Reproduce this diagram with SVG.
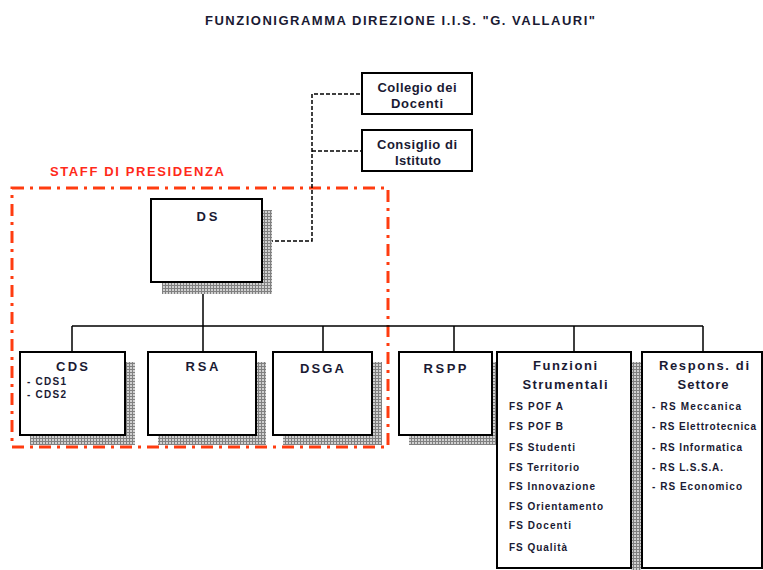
<svg xmlns="http://www.w3.org/2000/svg" width="763" height="570" viewBox="0 0 763 570">
<defs>
<pattern id="hatch" width="3" height="3" patternUnits="userSpaceOnUse">
<rect width="3" height="3" fill="#d0d0d0"/>
<path d="M0 0.5H3M0.5 0V3" stroke="#808080" stroke-width="1"/>
</pattern>
<style>
.box{fill:#fff;stroke:#000;stroke-width:2}
.sh{fill:url(#hatch)}
.t{font-family:"Liberation Sans",Arial,sans-serif;font-weight:bold;fill:#1a1a33}
.h{font-size:13px;text-anchor:middle}
.s{font-size:10px}
.c{fill:none;stroke:#000;stroke-width:1.5}
.d{fill:none;stroke:#000;stroke-width:1.5;stroke-dasharray:4 2}
</style>
</defs>
<rect width="763" height="570" fill="#fff"/>
<text class="t" x="400" y="25" font-size="13" text-anchor="middle" textLength="390" lengthAdjust="spacing">FUNZIONIGRAMMA DIREZIONE I.I.S. "G. VALLAURI"</text>
<text class="t" x="137" y="176" font-size="13" text-anchor="middle" style="fill:#ff2a1a" textLength="174" lengthAdjust="spacing">STAFF DI PRESIDENZA</text>
<rect x="12" y="188" width="376" height="259" fill="none" stroke="#ff3c10" stroke-width="3" stroke-dasharray="12 6 3 6"/>
<g id="connectors">
<path class="c" d="M203 282V326M72 326H703M72 326V352M203 326V352M323 326V352M454 326V352M574 326V352M703 326V352"/>
<path class="d" d="M263 241H312V94H362M312 151H362"/>
</g>
<g id="collegio">
<rect class="box" x="362" y="73" width="110" height="41"/>
<text class="t h" x="417" y="92" font-size="12" textLength="79" lengthAdjust="spacing">Collegio dei</text>
<text class="t h" x="417" y="108" font-size="12" textLength="52" lengthAdjust="spacing">Docenti</text>
</g>
<g id="consiglio">
<rect class="box" x="362" y="130" width="110" height="41"/>
<text class="t h" x="417" y="149" font-size="12" textLength="80" lengthAdjust="spacing">Consiglio di</text>
<text class="t h" x="418" y="165" font-size="12" textLength="46" lengthAdjust="spacing">Istituto</text>
</g>
<g id="ds">
<path class="sh" d="M262 210H272V294H162V282H262Z"/>
<rect class="box" x="151" y="199" width="111" height="83"/>
<text class="t h" x="207" y="221" textLength="21" lengthAdjust="spacing">DS</text>
</g>
<g id="cds">
<path class="sh" d="M125 362H135V445H30V435H125Z"/>
<rect class="box" x="20" y="352" width="105" height="83"/>
<text class="t h" x="72" y="371" textLength="32" lengthAdjust="spacing">CDS</text>
<text class="t s" x="27" y="385" font-size="9.5" textLength="39" lengthAdjust="spacing">- CDS1</text>
<text class="t s" x="27" y="398" font-size="9.5" textLength="39" lengthAdjust="spacing">- CDS2</text>
</g>
<g id="rsa">
<path class="sh" d="M256 362H266V445H158V435H256Z"/>
<rect class="box" x="148" y="352" width="108" height="83"/>
<text class="t h" x="202" y="371" textLength="33" lengthAdjust="spacing">RSA</text>
</g>
<g id="dsga">
<path class="sh" d="M372 362H382V445H283V435H372Z"/>
<rect class="box" x="273" y="352" width="99" height="83"/>
<text class="t h" x="322" y="373" textLength="44" lengthAdjust="spacing">DSGA</text>
</g>
<g id="rspp">
<path class="sh" d="M492 362H502V445H409V435H492Z"/>
<rect class="box" x="399" y="352" width="93" height="83"/>
<text class="t h" x="445" y="373" textLength="43" lengthAdjust="spacing">RSPP</text>
</g>
<g id="funzioni">
<path class="sh" d="M631 362H641V570H631Z"/>
<rect class="box" x="497" y="352" width="134" height="216"/>
<text class="t h" x="565" y="370" textLength="64" lengthAdjust="spacing">Funzioni</text>
<text class="t h" x="565" y="389" textLength="85" lengthAdjust="spacing">Strumentali</text>
<text class="t s" x="509" y="410" textLength="54" lengthAdjust="spacing">FS POF A</text>
<text class="t s" x="509" y="430" textLength="54" lengthAdjust="spacing">FS POF B</text>
<text class="t s" x="509" y="451" textLength="66" lengthAdjust="spacing">FS Studenti</text>
<text class="t s" x="509" y="471" textLength="70" lengthAdjust="spacing">FS Territorio</text>
<text class="t s" x="509" y="490" textLength="86" lengthAdjust="spacing">FS Innovazione</text>
<text class="t s" x="509" y="510" textLength="94" lengthAdjust="spacing">FS Orientamento</text>
<text class="t s" x="509" y="529" textLength="62" lengthAdjust="spacing">FS Docenti</text>
<text class="t s" x="509" y="551" textLength="58" lengthAdjust="spacing">FS Qualità</text>
</g>
<g id="respons">
<rect class="box" x="642" y="352" width="120" height="216"/>
<text class="t h" x="704" y="370" textLength="90" lengthAdjust="spacing">Respons. di</text>
<text class="t h" x="703" y="389" textLength="51" lengthAdjust="spacing">Settore</text>
<text class="t s" x="652" y="410" textLength="89" lengthAdjust="spacing">-  RS Meccanica</text>
<text class="t s" x="652" y="430" textLength="104" lengthAdjust="spacing">- RS Elettrotecnica</text>
<text class="t s" x="652" y="451" textLength="90" lengthAdjust="spacing">- RS Informatica</text>
<text class="t s" x="652" y="471" textLength="71" lengthAdjust="spacing">- RS L.S.S.A.</text>
<text class="t s" x="652" y="490" textLength="90" lengthAdjust="spacing">- RS Economico</text>
</g>
</svg>
